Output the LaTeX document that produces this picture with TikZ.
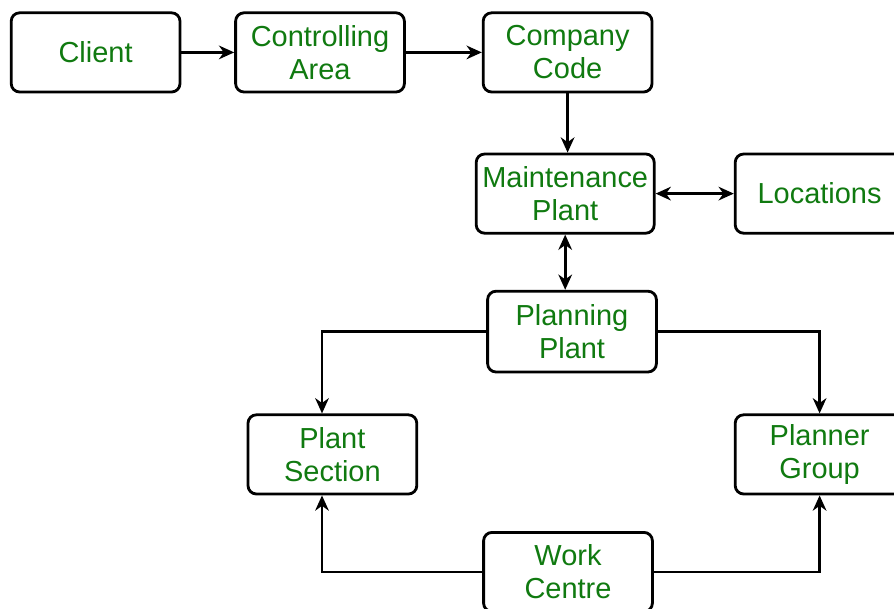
\documentclass[tikz,border=0pt]{standalone}
\usepackage{fontspec}
\setmainfont{Liberation Sans}
\usepackage{tikz}
\usetikzlibrary{arrows.meta,positioning,calc}

\definecolor{txtgreen}{RGB}{16,122,16}

\begin{document}
\begin{tikzpicture}[
  font=\fontsize{20.6}{23.5}\selectfont,
  box/.style={draw, line width=2pt, rounded corners=6pt, align=center,
              minimum width=4.22cm, minimum height=1.98cm, inner sep=0pt,
              text=txtgreen, fill=white},
  arr/.style={line width=1.9pt, -{Stealth[length=3.8mm, width=3.4mm, inset=1.2mm]}},
  biarr/.style={arr, {Stealth[length=3.8mm, width=3.4mm, inset=1.2mm]}-{Stealth[length=3.8mm, width=3.4mm, inset=1.2mm]}}
]
\useasboundingbox (0,0) rectangle (22.35,-15.2);

\node[box]                     (client) at (2.39,  -1.31) {Client};
\node[box]                     (ctrl)   at (8.00,  -1.31) {Controlling\\Area};
\node[box]                     (comp)   at (14.19, -1.31) {Company\\Code};
\node[box, minimum width=4.45cm] (maint) at (14.13, -4.84) {Maintenance\\Plant};
\node[box]                     (loc)    at (20.49, -4.84) {Locations};
\node[box, minimum height=2.02cm] (plan) at (14.30, -8.29) {Planning\\Plant};
\node[box]                     (sec)    at (8.31, -11.36) {Plant\\Section};
\node[box]                     (group)  at (20.49, -11.36) {Planner\\Group};
\node[box]                     (work)   at (14.20, -14.30) {Work\\Centre};

\draw[arr]   (client) -- (ctrl);
\draw[arr]   (ctrl) -- (comp);
\draw[arr]   (comp.south) -- (comp.south |- maint.north);
\draw[biarr] (maint) -- (loc);
\draw[biarr] (maint.south) -- (maint.south |- plan.north);
\draw[arr]   (plan.west) -| ([xshift=-0.26cm]sec.north);
\draw[arr]   (plan.east) -| (group.north);
\draw[arr]   (work.west) -| ([xshift=-0.26cm]sec.south);
\draw[arr]   (work.east) -| (group.south);
\end{tikzpicture}
\end{document}
